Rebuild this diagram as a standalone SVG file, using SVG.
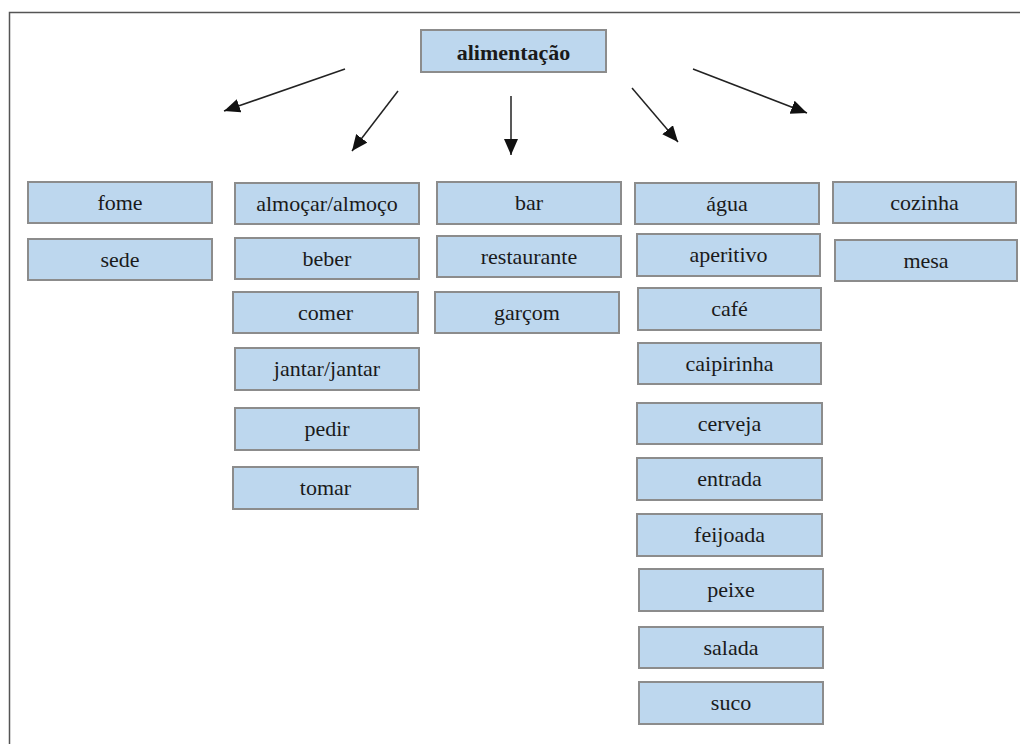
<svg xmlns="http://www.w3.org/2000/svg" width="1020" height="744" viewBox="0 0 1020 744">
  <style>
    .box rect { fill: #bdd7ee; stroke: #8c8c8c; stroke-width: 2; }
    .box text { font-family: "Liberation Serif", "Times New Roman", serif; font-size: 22px; fill: #1a1a1a; text-anchor: middle; }
    #n-alimentacao text { font-weight: bold; }
    .edge { stroke: #222; stroke-width: 1.5; fill: none; marker-end: url(#arrow); }
    .frame { stroke: #555; stroke-width: 1.5; fill: none; }
  </style>
  <defs>
    <marker id="arrow" markerUnits="userSpaceOnUse" markerWidth="18" markerHeight="16" refX="16" refY="7" orient="auto">
      <path d="M0,0 L16,7 L0,14 Z" fill="#111"/>
    </marker>
  </defs>
  <rect width="1020" height="744" fill="#fff"/>
  <!-- page frame: top rule and left rule -->
  <path class="frame" d="M9.5,744 L9.5,12.5 L1020,12.5"/>

  <g id="edges">
    <line class="edge" x1="345" y1="69" x2="224" y2="111"/>
    <line class="edge" x1="398" y1="91" x2="352" y2="151"/>
    <line class="edge" x1="511" y1="96" x2="511" y2="155"/>
    <line class="edge" x1="632" y1="88" x2="678" y2="142"/>
    <line class="edge" x1="693" y1="69" x2="807" y2="113"/>
  </g>

  <g id="n-alimentacao" class="box"><rect x="421" y="30" width="185" height="42"/><text x="513.5" y="60">alimentação</text></g>

  <g id="n-fome" class="box"><rect x="28" y="182" width="184" height="41"/><text x="120" y="210">fome</text></g>
  <g id="n-sede" class="box"><rect x="28" y="239" width="184" height="41"/><text x="120" y="267">sede</text></g>

  <g id="n-almocar" class="box"><rect x="235" y="183" width="184" height="41"/><text x="327" y="211">almoçar/almoço</text></g>
  <g id="n-beber" class="box"><rect x="235" y="238" width="184" height="41"/><text x="327" y="266">beber</text></g>
  <g id="n-comer" class="box"><rect x="233" y="292" width="185" height="41"/><text x="325.5" y="320">comer</text></g>
  <g id="n-jantar" class="box"><rect x="235" y="348" width="184" height="42"/><text x="327" y="376">jantar/jantar</text></g>
  <g id="n-pedir" class="box"><rect x="235" y="408" width="184" height="42"/><text x="327" y="436">pedir</text></g>
  <g id="n-tomar" class="box"><rect x="233" y="467" width="185" height="42"/><text x="325.5" y="495">tomar</text></g>

  <g id="n-bar" class="box"><rect x="437" y="182" width="184" height="42"/><text x="529" y="210">bar</text></g>
  <g id="n-restaurante" class="box"><rect x="437" y="236" width="184" height="41"/><text x="529" y="264">restaurante</text></g>
  <g id="n-garcom" class="box"><rect x="435" y="292" width="184" height="41"/><text x="527" y="320">garçom</text></g>

  <g id="n-agua" class="box"><rect x="635" y="183" width="184" height="41"/><text x="727" y="211">água</text></g>
  <g id="n-aperitivo" class="box"><rect x="637" y="234" width="183" height="42"/><text x="728.5" y="262">aperitivo</text></g>
  <g id="n-cafe" class="box"><rect x="638" y="288" width="183" height="42"/><text x="729.5" y="316">café</text></g>
  <g id="n-caipirinha" class="box"><rect x="638" y="343" width="183" height="41"/><text x="729.5" y="371">caipirinha</text></g>
  <g id="n-cerveja" class="box"><rect x="637" y="403" width="185" height="41"/><text x="729.5" y="431">cerveja</text></g>
  <g id="n-entrada" class="box"><rect x="637" y="458" width="185" height="42"/><text x="729.5" y="486">entrada</text></g>
  <g id="n-feijoada" class="box"><rect x="637" y="514" width="185" height="42"/><text x="729.5" y="542">feijoada</text></g>
  <g id="n-peixe" class="box"><rect x="639" y="569" width="184" height="42"/><text x="731" y="597">peixe</text></g>
  <g id="n-salada" class="box"><rect x="639" y="627" width="184" height="41"/><text x="731" y="655">salada</text></g>
  <g id="n-suco" class="box"><rect x="639" y="682" width="184" height="42"/><text x="731" y="710">suco</text></g>

  <g id="n-cozinha" class="box"><rect x="833" y="182" width="183" height="41"/><text x="924.5" y="210">cozinha</text></g>
  <g id="n-mesa" class="box"><rect x="835" y="240" width="182" height="41"/><text x="926" y="268">mesa</text></g>
</svg>
